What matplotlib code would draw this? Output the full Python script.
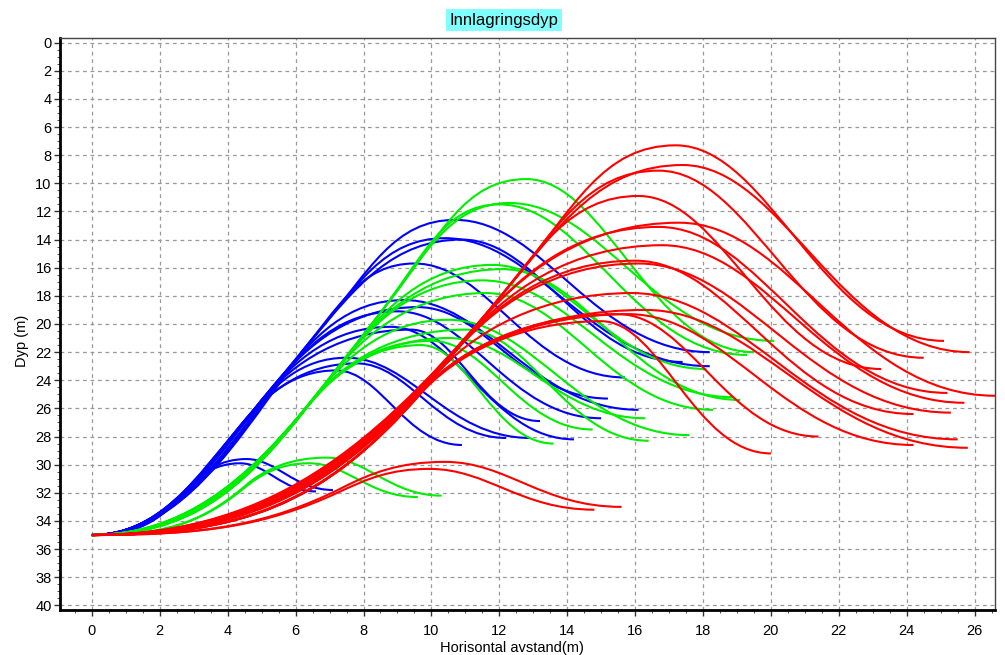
import matplotlib.pyplot as plt
from matplotlib.path import Path
from matplotlib.patches import PathPatch
from matplotlib.ticker import MultipleLocator

plt.rcParams["font.family"] = ["Liberation Sans", "DejaVu Sans"]

# all trajectories start at the outlet
start_x = 0.0
start_depth = 35.0

# blue series: peak (x, depth) and end (x, depth) of each trajectory
blue_peak_x = [10.7, 10.4, 10.9, 9.5, 9.2, 9.6, 9.0, 8.8, 9.4, 7.5, 7.8, 7.2, 4.55, 4.36]
blue_peak_depth = [12.6, 13.9, 14.0, 15.7, 18.3, 18.8, 19.1, 20.2, 20.4, 22.4, 22.8, 23.3, 29.6, 29.9]
blue_end_x = [18.2, 18.2, 17.4, 15.7, 16.1, 15.2, 15.0, 14.2, 13.2, 12.9, 12.2, 10.9, 7.1, 6.6]
blue_end_depth = [22.0, 23.0, 22.7, 23.8, 26.1, 25.3, 26.7, 28.2, 26.9, 28.1, 28.1, 28.6, 31.8, 31.9]

# green series
green_peak_x = [12.8, 12.3, 12.0, 11.8, 12.1, 11.5, 11.6, 10.5, 11.0, 10.5, 10.0, 9.7, 6.9, 6.4]
green_peak_depth = [9.7, 11.4, 11.5, 15.8, 16.1, 16.9, 17.8, 19.7, 20.4, 21.0, 21.2, 21.5, 29.5, 29.9]
green_end_x = [19.5, 20.1, 19.3, 18.1, 19.1, 18.9, 18.3, 17.6, 16.4, 16.3, 14.75, 13.6, 10.3, 9.6]
green_end_depth = [22.0, 21.2, 22.2, 23.2, 25.4, 25.2, 26.1, 27.9, 28.3, 26.7, 27.5, 28.5, 32.2, 32.3]

# red series
red_peak_x = [17.2, 17.4, 16.7, 16.1, 17.3, 16.7, 16.8, 16.1, 16.0, 15.9, 16.3, 15.8, 15.5, 15.0, 10.4, 9.95]
red_peak_depth = [7.3, 8.7, 9.1, 10.9, 12.8, 13.1, 14.4, 15.7, 15.5, 17.8, 19.0, 19.3, 19.3, 19.8, 29.8, 30.3]
red_end_x = [25.1, 25.85, 24.5, 23.25, 26.6, 25.2, 25.7, 25.3, 24.2, 25.5, 25.8, 24.2, 21.4, 20.0, 15.6, 14.8]
red_end_depth = [21.2, 22.0, 22.4, 23.2, 25.1, 24.9, 25.6, 26.3, 26.4, 28.2, 28.8, 28.6, 28.0, 29.2, 33.0, 33.2]


def trajectory(px, py, ex, ey, b0, s):
    # rising plume follows a common straight band (depth = b0 - s*x),
    # leaves it at a knee and bends over to the top, then sinks to the end
    kd = py + 0.35 * (start_depth - py)
    kx = (b0 - kd) / s
    h = 0.3 * kx
    sk = min(s, 0.8 * (start_depth - kd) / h)
    g = 0.55 * (kd - py) / sk
    m = 0.45 * (px - kx)
    verts = [
        (start_x, start_depth),
        (0.45 * kx, start_depth), (kx - h, kd + sk * h), (kx, kd),
        (kx + g, kd - sk * g), (px - m, py), (px, py),
        (px + 0.35 * (ex - px), py), (px + 0.55 * (ex - px), ey), (ex, ey),
    ]
    codes = [Path.MOVETO] + [Path.CURVE4] * 9
    return Path(verts, codes)


fig = plt.figure(figsize=(10.05, 6.55), dpi=100)
ax = fig.add_axes([0.0597, 0.0687, 0.9303, 0.8733])

series = [
    (blue_peak_x, blue_peak_depth, blue_end_x, blue_end_depth, "#0000ff", 39.9, 2.9),
    (green_peak_x, green_peak_depth, green_end_x, green_end_depth, "#00ee00", 45.55, 3.1),
    (red_peak_x, red_peak_depth, red_end_x, red_end_depth, "#ff0000", 53.2, 2.92),
]
for pxs, pys, exs, eys, color, b0, s in series:
    for px, py, ex, ey in zip(pxs, pys, exs, eys):
        ax.add_patch(PathPatch(trajectory(px, py, ex, ey, b0, s),
                               fill=False, edgecolor=color, lw=1.5))

ax.set_xlim(-0.94, 26.6)
ax.set_ylim(40.33, -0.33)
ax.xaxis.set_major_locator(MultipleLocator(2))
ax.xaxis.set_minor_locator(MultipleLocator(0.5))
ax.yaxis.set_major_locator(MultipleLocator(2))
ax.yaxis.set_minor_locator(MultipleLocator(0.5))
ax.tick_params(labelsize=10.5, length=4, width=1, colors="#333333", labelcolor="black")
ax.tick_params(axis="x", pad=6)
ax.tick_params(axis="y", pad=2)
ax.tick_params(which="minor", length=2, colors="#333333")
ax.grid(True, which="major", color="#999999", linestyle=(0, (3, 3)), linewidth=0.9)
ax.set_axisbelow(True)

for side in ["left", "bottom"]:
    ax.spines[side].set_linewidth(2)
    ax.spines[side].set_color("black")
for side in ["top", "right"]:
    ax.spines[side].set_linewidth(1)
    ax.spines[side].set_color("#444444")

ax.set_xlabel("Horisontal avstand(m)", fontsize=10.5)
ax.xaxis.set_label_coords((512 - 60) / 935, -0.055)
ax.set_ylabel("Dyp (m)", fontsize=10.5)
ax.yaxis.set_label_coords(-0.033, 0.47)
fig.text(504 / 1005, 1 - 20 / 655, "Innlagringsdyp", fontsize=12,
         ha="center", va="center",
         bbox=dict(facecolor="#80ffff", edgecolor="none", pad=2.5))

fig.savefig("out.png", dpi=100)
